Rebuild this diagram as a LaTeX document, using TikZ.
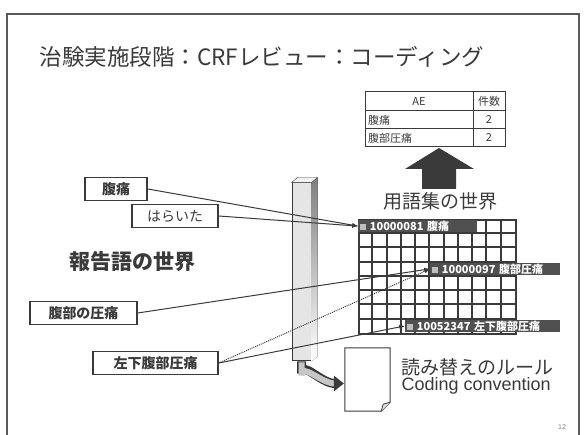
\documentclass[tikz,border=0pt]{standalone}
\usepackage{fontspec}
\setmainfont{Liberation Sans}
\newfontfamily\jp{Noto Sans CJK JP}
\usepackage{tikz}
\usetikzlibrary{arrows}
\usetikzlibrary{fit}
\definecolor{ink}{RGB}{58,58,58}
\definecolor{shade}{RGB}{80,80,80}
\newcommand\fsz[1]{\fontsize{#1}{#1}\selectfont}

\begin{document}
\begin{tikzpicture}[x=1pt,y=-1pt]
  \tikzstyle{word} = [rectangle, draw=ink, line width=1.4pt, fill=white, inner sep=0pt, minimum height=23pt, text=ink, font=\jp\fsz{14}\bfseries]
  \tikzstyle{band} = [rectangle, fill=shade, inner xsep=2pt, inner ysep=0pt, minimum height=12pt, anchor=west, text=white, font=\jp\fsz{11}\bfseries, align=left]
  \tikzstyle{link} = [-latex, ink, line width=1pt]
  \tikzstyle{cell} = [ink, line width=2pt]
  \tikzstyle{tab} = [text=ink, font=\jp\fsz{11}, inner sep=1pt]

  \useasboundingbox (0,0) rectangle (584,435);
  \draw[gray!70!black, line width=1.5pt] (7,440) -- (7,14) -- (579,14) -- (579,440);

  \node (title) [anchor=west, text=ink, font=\jp\fsz{22.5}] at (36,57) {治験実施段階：CRFレビュー：コーディング};
  \node (pg) [text=gray, font=\fsz{7}] at (562,427) {12};

  \draw[ink, line width=1pt] (365,92) rectangle (505,147) (365,111) -- (505,111) (365,129) -- (505,129) (473,92) -- (473,147);
  \node (ae) [tab] at (419,101.5) {AE};
  \node (cnt) [tab] at (489,101.5) {件数};
  \node (t1) [tab, anchor=west] at (367,120) {腹痛};
  \node (n1) [tab] at (489,120) {2};
  \node (t2) [tab, anchor=west] at (367,138) {腹部圧痛};
  \node (n2) [tab] at (489,138) {2};

  \fill[ink] (439,148) -- (474,169) -- (456,169) -- (456,189) -- (422,189) -- (422,169) -- (405,169) -- cycle;
  \node (terms) [text=ink, font=\jp\fsz{19}] at (440,201) {用語集の世界};

  \node (gloss) [draw=ink, line width=2.2pt, fill=white, minimum width=156.75pt, minimum height=114pt, inner sep=0pt, anchor=north west] at (358,219) {};
  \foreach \i in {1,...,10} \draw[cell] (358+\i*14.25,219) -- (358+\i*14.25,333);
  \foreach \j in {1,...,7} \draw[cell] (358,219+\j*14.25) -- (514.75,219+\j*14.25);
  \node (e1) [band, text width=115pt] at (358,226.1) {\textcolor{gray!50}{\rule{6pt}{6pt}}\,\,10000081\ 腹痛};
  \node (e4) [band, text width=126pt] at (430,268.9) {\textcolor{gray!50}{\rule{6pt}{6pt}}\,\,10000097\ 腹部圧痛};
  \node (e8) [band, text width=151pt] at (405,325.9) {\textcolor{gray!50}{\rule{6pt}{6pt}}\,\,10052347\ 左下腹部圧痛};

  \node (post) [rectangle, draw=ink, line width=1pt, fill=gray!20, minimum width=19pt, minimum height=178pt, inner sep=0pt] at (301.5,272) {};
  \fill[shade] (post.north east) -- ([xshift=6pt,yshift=5pt]post.north east) -- ([xshift=6pt,yshift=5pt]post.south east) -- (post.south east) -- cycle;
  \draw[ink, fill=gray!10] (post.north west) -- ([xshift=6pt,yshift=5pt]post.north west) -- ([xshift=6pt,yshift=5pt]post.north east) -- (post.north east) -- cycle;

  \node (doc) [minimum width=45pt, minimum height=63pt, inner sep=0pt] at (367.5,379.5) {};
  \draw[ink, line width=1pt, fill=white] (doc.north west) -- (doc.north east) -- ([yshift=9pt]doc.south east) -- ([xshift=-9pt]doc.south east) -- (doc.south west) -- cycle;
  \draw[ink, line width=0.8pt, fill=gray!25] ([yshift=9pt]doc.south east) -- ([xshift=-7pt,yshift=7pt]doc.south east) -- ([xshift=-9pt]doc.south east);
  \draw[ink, line width=9pt] (post.south) -- ++(0,12) to[out=90,in=180] ([xshift=-10pt,yshift=-4pt]doc.west);
  \draw[gray!45, line width=6pt] ([yshift=-1pt]post.south) -- ++(0,13) to[out=90,in=180] ([xshift=-10pt,yshift=-4pt]doc.west);
  \fill[ink] ([xshift=-11pt,yshift=4pt]doc.west) -- ([xshift=-1pt,yshift=-4pt]doc.west) -- ([xshift=-11pt,yshift=-12pt]doc.west) -- cycle;
  \node (rule) [anchor=west, text=ink, font=\jp\fsz{19}] at (398,367) {読み替えのルール};
  \node (conv) [anchor=west, text=ink, font=\fsz{18}] at (398,386) {Coding convention};

  \node (w1) [word, minimum width=62pt] at (116,189) {腹痛};
  \node (w2) [word, minimum width=86pt, font=\jp\fsz{14}] at (175,216) {はらいた};
  \node (w3) [word, minimum width=107pt] at (83.5,313) {腹部の圧痛};
  \node (w4) [word, minimum width=125pt] at (155.5,363) {左下腹部圧痛};
  \node (report) [text=ink, font=\jp\fsz{21}\bfseries] at (132,262) {報告語の世界};

  \draw[link] (w1.east) -- (e1.west);
  \draw[link] (w2.east) -- (e1.west);
  \draw[link] (w3.east) -- (e4.west);
  \draw[link, densely dotted] (w4.east) -- (e4.west);
  \draw[link] (w4.east) -- (e8.west);
\end{tikzpicture}
\end{document}
